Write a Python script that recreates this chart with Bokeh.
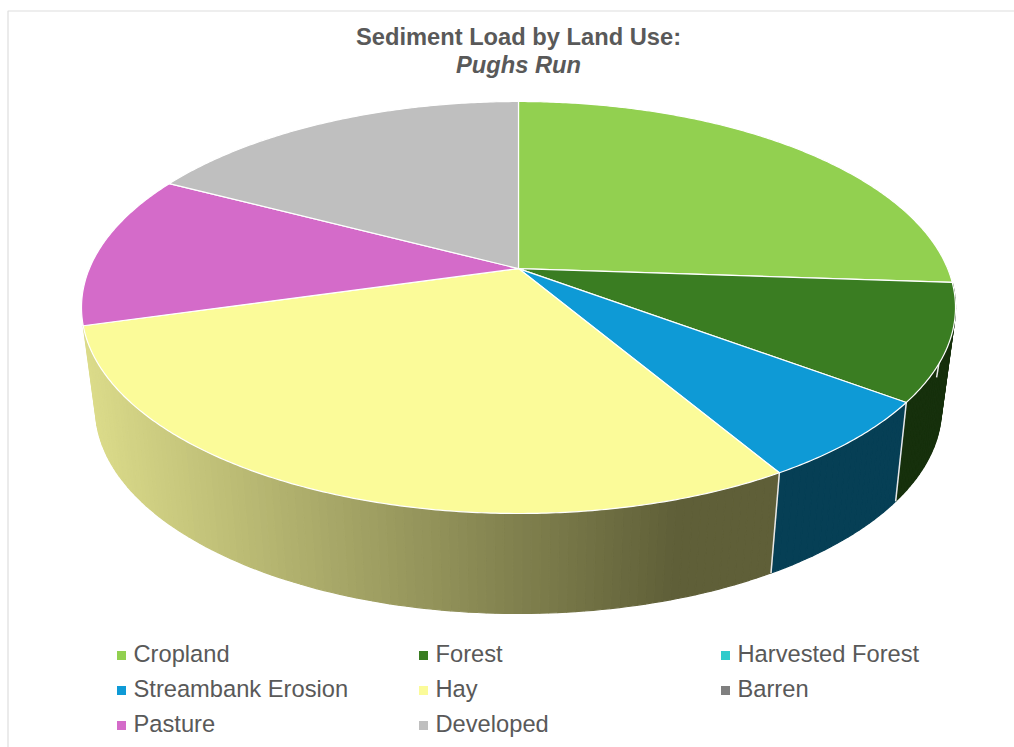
import numpy as np
from bokeh.core.properties import value
from bokeh.embed import file_html
from bokeh.models import ColumnDataSource, Range1d
from bokeh.plotting import figure
from bokeh.resources import INLINE

# Sediment load shares by land use (percent of the total)
categories = ["Cropland", "Forest", "Harvested Forest", "Streambank Erosion",
              "Hay", "Barren", "Pasture", "Developed"]
shares = [26.1, 9.1, 0.0, 6.3, 29.1, 0.0, 12.1, 17.3]
face_colors = ["#92d050", "#3a7d22", "#2fcbcb", "#0e9ad6",
               "#fbfb99", "#7f7f7f", "#d46bc9", "#bfbfbf"]
wall_colors = ["#3d5a20", "#16300c", "#125a5a", "#063f55",
               None, "#333333", "#5a2d55", "#555555"]
title_lines = ["Sediment Load by Land Use:", "Pughs Run"]

W, H = 1014, 747
TEXT = "#595959"
FONT = value("Liberation Sans")
FONT_PX = "23.7px"

p = figure(width=W, height=H, output_backend="svg", toolbar_location=None,
           x_range=Range1d(0, W), y_range=Range1d(H, 0), min_border=0,
           outline_line_color=None, background_fill_color="white",
           border_fill_color="white")
p.axis.visible = False
p.grid.visible = False


def project(theta, cx, cy, rx, ry, shift):
    """Perspective view of a disc: theta is clockwise from 12 o'clock, in degrees."""
    t = np.radians(theta)
    u, v = np.sin(t), -np.cos(t)
    d = 1 - shift * v
    return cx + rx * u * np.sqrt(1 - shift ** 2) / d, cy + ry * (v - shift) / d


TOP = (518.0, 307.0, 437.0, 206.0, 0.189)
BOTTOM = (518.0, 408.0, 423.0, 205.0, 0.221)
APEX = (TOP[0], TOP[1] - TOP[3] * TOP[4])

edges = np.concatenate([[0.0], np.cumsum(shares)]) * 360.0 / sum(shares)
spans = [(i, edges[i], edges[i + 1]) for i in range(len(shares)) if shares[i] > 0]


def lower_rim(theta):
    # Wall edges lean slightly towards the front centre as they descend
    theta = np.asarray(theta, dtype=float)
    return project(theta + 1.1 * np.sin(np.radians(2 * (theta - 90))), *BOTTOM)


def hay_shade(x):
    # Wall shading runs from pale on the left to dark olive on the right
    f = min(np.clip((x - 85.0) / (770.0 - 85.0), 0, 1) / 0.86, 1.0)
    a, b = np.array([222, 222, 140]), np.array([95, 95, 56])
    r, g, bl = (a + (b - a) * f).astype(int)
    return f"#{r:02x}{g:02x}{bl:02x}"


# Outer wall as narrow strips; only slices that face the viewer have one
for i, a0, a1 in sorted(spans, key=lambda s: -abs((s[1] + s[2]) / 2 - 180)):
    if a1 < 100 or a0 > 250:
        continue
    n = max(int(a1 - a0), 2)
    th = np.linspace(a0, a1, n + 1)
    xt, yt = project(th, *TOP)
    xb, yb = lower_rim(th)
    xs, ys, cs = [], [], []
    for k in range(n):
        xs.append([xt[k], xt[k + 1], xb[k + 1], xb[k]])
        ys.append([yt[k], yt[k + 1], yb[k + 1], yb[k]])
        cs.append(wall_colors[i] or hay_shade((xb[k] + xb[k + 1]) / 2))
    p.patches(xs, ys, fill_color=cs, line_color=cs, line_width=1.2)

# White seams between neighbouring wall sections on the front side
for _, a0, a1 in spans:
    if 90 < a1 < 250:
        xt, yt = project(a1, *TOP)
        xb, yb = lower_rim(a1)
        p.line([xt, xb], [yt, yb], line_color="#e8e8e8", line_width=1.5)

# Upper face of the pie
for i, a0, a1 in spans:
    th = np.linspace(a0, a1, max(int((a1 - a0) * 2), 2) + 1)
    x, y = project(th, *TOP)
    p.patch(np.r_[APEX[0], x], np.r_[APEX[1], y], fill_color=face_colors[i],
            line_color="white", line_width=1.2, line_join="round")

# Frame edges of the chart area
p.line([7.5, 7.5, W], [H, 10.5, 10.5], line_color="#dedede", line_width=1.2)

# Title
p.text([518], [36], text=[title_lines[0]], text_font=FONT, text_font_size=FONT_PX,
       text_font_style="bold", text_color=TEXT, text_align="center",
       text_baseline="alphabetic")
p.text([518], [64], text=[title_lines[1]], text_font=FONT, text_font_size=FONT_PX,
       text_font_style="bold italic", text_color=TEXT, text_align="center",
       text_baseline="alphabetic")

# Legend: three columns, three rows
col_x = [121, 423, 725]
row_y = [655, 690, 725]
pos = [(col_x[i % 3], row_y[i // 3]) for i in range(len(categories))]
legend = ColumnDataSource(dict(
    mx=[q[0] for q in pos], my=[q[1] for q in pos],
    tx=[q[0] + 12 for q in pos], ty=[q[1] - 1.5 for q in pos],
    label=categories, color=face_colors))
p.scatter("mx", "my", source=legend, marker="square", size=9,
          fill_color="color", line_color=None)
p.text("tx", "ty", text="label", source=legend, text_font=FONT,
       text_font_size=FONT_PX, text_color=TEXT, text_baseline="alphabetic")

open("out.html", "w").write(file_html(p, INLINE))
